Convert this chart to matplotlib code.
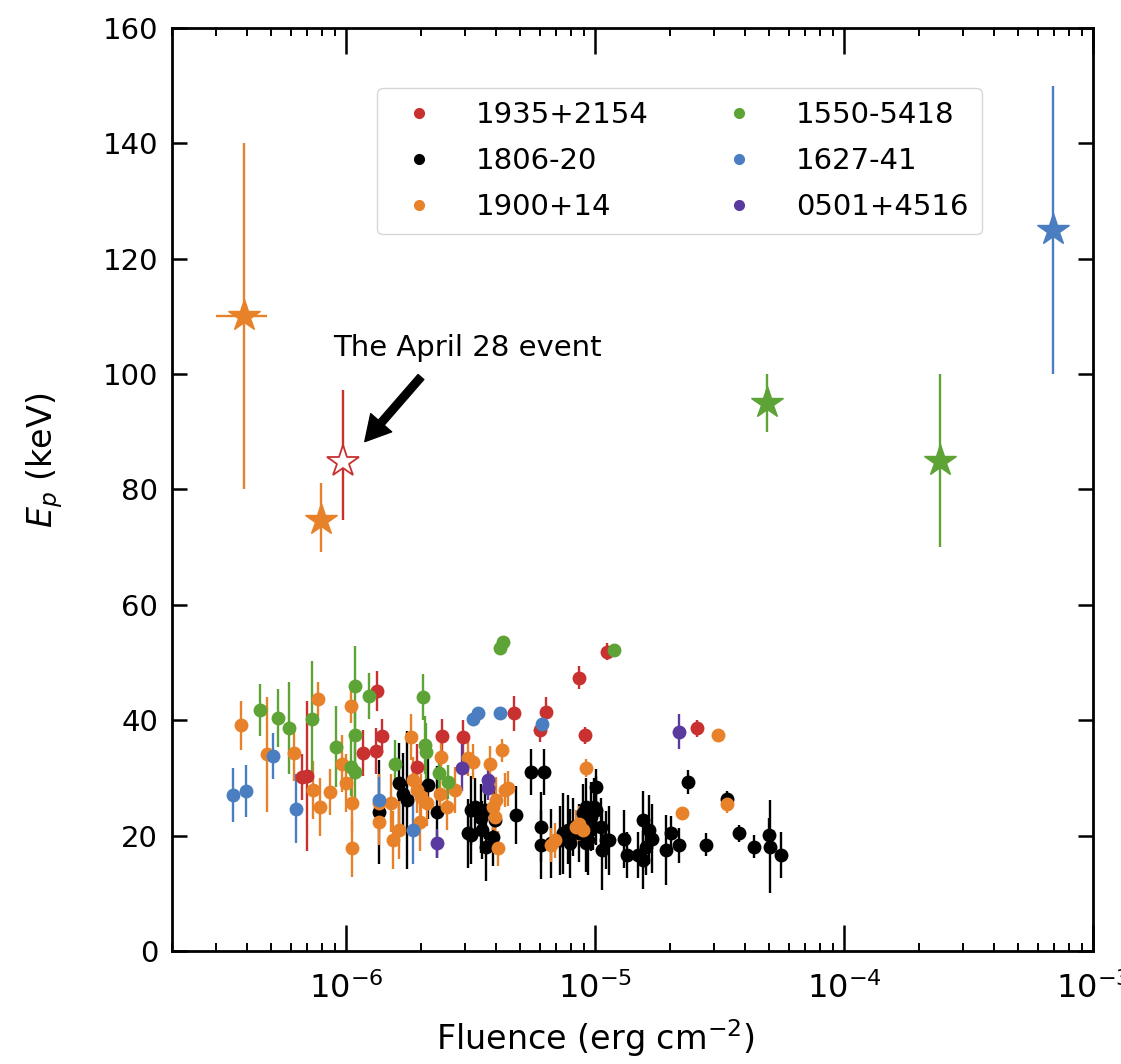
import matplotlib
matplotlib.use("Agg")
import matplotlib.pyplot as plt
from matplotlib.lines import Line2D
import numpy as np

plt.rcParams['font.family'] = ['DejaVu Sans']

# ---------------- data ----------------
labels = ["1935+2154", "1806-20", "1900+14", "1550-5418", "1627-41", "0501+4516"]
colors = ["#c8312f", "#000000", "#e8822a", "#5ea335", "#4a7ec0", "#5b3aa0"]

red_x = [6.67e-7, 7.0e-7, 1.17e-6, 1.32e-6, 1.33e-6, 1.39e-6, 1.92e-6, 2.42e-6, 2.95e-6,
         4.75e-6, 6.0e-6, 6.34e-6, 8.61e-6, 9.08e-6, 1.12e-5, 2.58e-5]
red_y = [30.1, 30.3, 34.3, 34.7, 45.1, 37.3, 31.9, 37.3, 37.1,
         41.2, 38.3, 41.5, 47.4, 37.4, 51.9, 38.6]
red_e = [4, 13, 4, 4, 3.5, 3, 4, 3, 3,
         3, 2, 2.5, 2, 1.5, 1.5, 1.5]

blk_x = [1.36e-6, 1.64e-6, 1.70e-6, 1.76e-6, 2.13e-6, 2.31e-6, 3.19e-6, 3.50e-6, 3.19e-6, 3.53e-6,
         3.66e-6, 3.89e-6, 3.29e-6, 3.95e-6, 3.61e-6, 3.09e-6, 4.83e-6, 5.55e-6, 6.22e-6, 6.08e-6,
         6.08e-6, 6.67e-6, 7.21e-6, 7.45e-6, 7.79e-6, 7.92e-6, 8.16e-6, 8.66e-6, 8.93e-6, 9.22e-6,
         9.65e-6, 1.01e-5, 1.01e-5, 1.06e-5, 1.11e-5, 1.07e-5, 9.22e-6, 9.78e-6, 1.31e-5, 1.35e-5,
         1.49e-5, 1.56e-5, 1.56e-5, 1.65e-5, 1.70e-5, 1.60e-5, 1.93e-5, 2.02e-5, 2.17e-5, 2.36e-5,
         2.79e-5, 3.40e-5, 3.80e-5, 4.36e-5, 5.00e-5, 5.05e-5, 5.57e-5, 1.14e-5, 9.35e-6, 9.90e-6]
blk_y = [24.1, 29.1, 27.3, 26.2, 28.8, 24.1, 24.4, 23.0, 20.1, 21.0,
         18.1, 19.8, 25.0, 22.7, 24.4, 20.4, 23.6, 31.1, 31.1, 21.5,
         18.4, 18.7, 19.2, 20.4, 21.0, 18.7, 21.5, 20.4, 23.9, 25.0,
         23.3, 28.5, 24.4, 21.5, 19.2, 17.5, 18.7, 21.5, 19.4, 16.6,
         16.6, 22.7, 15.8, 21.0, 19.5, 18.1, 17.5, 20.4, 18.3, 29.3,
         18.4, 26.3, 20.4, 18.1, 20.1, 18.1, 16.6, 19.2, 19.2, 25.0]
blk_e = [9, 7, 7, 12, 6, 8, 6, 6, 5, 5,
         6, 5, 5, 5, 5, 6, 5, 4, 4, 6,
         6, 6, 6, 7, 6, 6, 5, 5, 5, 5,
         6, 3, 6, 5, 5, 7, 5, 4, 5, 4,
         4, 5, 5, 6, 6, 5, 6, 3, 3, 2,
         2, 1.5, 1.5, 2, 3, 8, 4, 6, 6, 5]

org_x = [3.79e-7, 4.81e-7, 6.2e-7, 7.4e-7, 7.87e-7, 7.74e-7, 8.63e-7, 9.61e-7, 1.0e-6, 1.05e-6,
         1.06e-6, 1.06e-6, 1.36e-6, 1.36e-6, 1.52e-6, 1.54e-6, 1.64e-6, 1.82e-6, 1.86e-6, 1.92e-6,
         2.01e-6, 2.11e-6, 1.98e-6, 2.40e-6, 2.38e-6, 2.54e-6, 2.74e-6, 3.09e-6, 3.24e-6, 3.78e-6,
         3.89e-6, 3.95e-6, 4.02e-6, 4.24e-6, 4.34e-6, 4.47e-6, 4.08e-6, 6.67e-6, 6.88e-6, 8.37e-6,
         8.66e-6, 8.93e-6, 9.23e-6, 2.24e-5, 3.13e-5, 3.40e-5]
org_y = [39.1, 34.1, 34.4, 27.9, 25.0, 43.6, 27.6, 32.5, 29.1, 42.5,
         25.6, 17.8, 25.6, 22.4, 25.6, 19.2, 21.0, 37.1, 29.6, 27.9,
         26.7, 25.6, 22.4, 33.7, 27.3, 25.0, 27.9, 33.4, 32.8, 32.5,
         25.0, 23.3, 26.2, 34.8, 27.9, 28.2, 17.8, 18.4, 19.2, 21.5,
         22.1, 21.0, 31.7, 23.9, 37.4, 25.5]
org_e = [4.3, 10, 5, 5, 5, 3, 4, 5, 5, 3,
         5, 5, 5, 4, 5, 5, 5, 4, 4, 4,
         4, 4, 5, 4, 4, 4, 4, 3, 3, 3,
         4, 4, 4, 2, 3, 3, 3, 3, 3, 3,
         3, 3, 1.5, 1, 1, 1.5]

grn_x = [4.5e-7, 5.31e-7, 5.93e-7, 7.33e-7, 9.12e-7, 1.087e-6, 1.09e-6, 1.09e-6, 1.05e-6, 1.24e-6,
         1.58e-6, 2.04e-6, 2.07e-6, 2.10e-6, 2.37e-6, 2.57e-6, 4.14e-6, 4.28e-6, 1.19e-5]
grn_y = [41.8, 40.4, 38.7, 40.3, 35.4, 45.9, 37.4, 31.1, 31.9, 44.2,
         32.5, 44.0, 35.7, 34.5, 30.8, 29.3, 52.5, 53.6, 52.2]
grn_e = [4.5, 5, 8, 10, 7, 7, 5, 5, 5, 4,
         4, 4, 5, 5, 3, 3, 1, 1, 1]

blu_x = [3.53e-7, 3.97e-7, 5.08e-7, 6.3e-7, 1.36e-6, 1.85e-6, 3.24e-6, 3.39e-6, 4.14e-6, 6.1e-6]
blu_y = [27.0, 27.8, 33.8, 24.7, 26.2, 21.0, 40.3, 41.3, 41.3, 39.3]
blu_e = [4.7, 4.5, 4, 6, 4, 6, 1, 1, 1, 1]

pur_x = [2.31e-6, 2.93e-6, 3.72e-6, 3.72e-6, 2.18e-5]
pur_y = [18.7, 31.8, 29.6, 28.2, 38.0]
pur_e = [2.5, 4, 2, 2, 3]

# giant flares / special events (stars)
star_src = ["1900+14", "1900+14", "1550-5418", "1550-5418", "1627-41"]
star_x = [3.88e-7, 7.9e-7, 4.9e-5, 2.43e-4, 6.9e-4]
star_y = [110.0, 74.7, 95.0, 85.0, 125.0]
star_elo = [30.0, 5.5, 5.0, 15.0, 25.0]
star_ehi = [30.0, 6.4, 5.0, 15.0, 25.0]
star_xlo = [0.88e-7, 0, 0, 0, 0]
star_xhi = [0.93e-7, 0, 0, 0, 0]

# the April 28 event (SGR 1935+2154)
apr_x = [0.97e-6]
apr_y = [84.8]
apr_elo = [10.1]
apr_ehi = [12.4]

# ---------------- plot ----------------
fig = plt.figure(figsize=(11.21, 10.64), dpi=100)
ax = fig.add_axes([0.1534, 0.1062, 0.8216, 0.8675])

series = [(red_x, red_y, red_e), (blk_x, blk_y, blk_e), (org_x, org_y, org_e),
          (grn_x, grn_y, grn_e), (blu_x, blu_y, blu_e), (pur_x, pur_y, pur_e)]
for (xs, ys, es), c in zip(series, colors):
    ax.errorbar(xs, ys, yerr=es, fmt='o', color=c, ecolor=c, ms=10,
                elinewidth=1.7, capsize=0, mec='none')

cmap = dict(zip(labels, colors))
for sx, sy, elo, ehi, xlo, xhi, src in zip(star_x, star_y, star_elo, star_ehi,
                                            star_xlo, star_xhi, star_src):
    c = cmap[src]
    ax.errorbar([sx], [sy], yerr=[[elo], [ehi]], xerr=[[xlo], [xhi]], fmt='*',
                color=c, ecolor=c, ms=24, elinewidth=1.7, capsize=0, mec=c)

ax.errorbar(apr_x, apr_y, yerr=[apr_elo, apr_ehi], fmt='*', color=cmap["1935+2154"],
            mfc='white', mec=cmap["1935+2154"], mew=1.3, ms=24, elinewidth=1.7, capsize=0,
            zorder=5)

ax.annotate('', xy=(1.19e-6, 88.3), xytext=(2.0e-6, 99.5),
            arrowprops=dict(facecolor='black', edgecolor='black', width=5.5,
                            headwidth=20, headlength=18, shrink=0))
ax.text(3.07e-6, 104.6, 'The April 28 event', fontsize=21, ha='center', va='center')

ax.set_xscale('log')
ax.set_xlim(2e-7, 1e-3)
ax.set_ylim(0, 160)
ax.set_yticks(np.arange(0, 161, 20))

ax.tick_params(which='both', direction='in', top=True, right=True)
ax.tick_params(axis='x', which='major', length=19, width=1.8, pad=15, labelsize=23)
ax.tick_params(axis='y', which='major', length=11, width=1.8, pad=10, labelsize=21)
ax.tick_params(which='minor', length=6, width=1.4)
for sp in ax.spines.values():
    sp.set_linewidth(2.0)

ax.set_xlabel('Fluence (erg cm$^{-2}$)', fontsize=24)
ax.set_ylabel('$E_p$ (keV)', fontsize=24)
ax.xaxis.set_label_coords(0.46, -0.072)
ax.yaxis.set_label_coords(-0.116, 0.532)

handles = [Line2D([], [], marker='o', ls='none', color=c, ms=7) for c in colors]
leg = ax.legend(handles, labels, ncol=2, loc='upper left',
                bbox_to_anchor=(0.2226, 0.935), borderaxespad=0, fontsize=21,
                frameon=True, handletextpad=0.95, columnspacing=2.1,
                labelspacing=0.62, borderpad=0.45, handlelength=2.0)
leg.get_frame().set_edgecolor('0.8')

fig.savefig('out.png', dpi=100)
